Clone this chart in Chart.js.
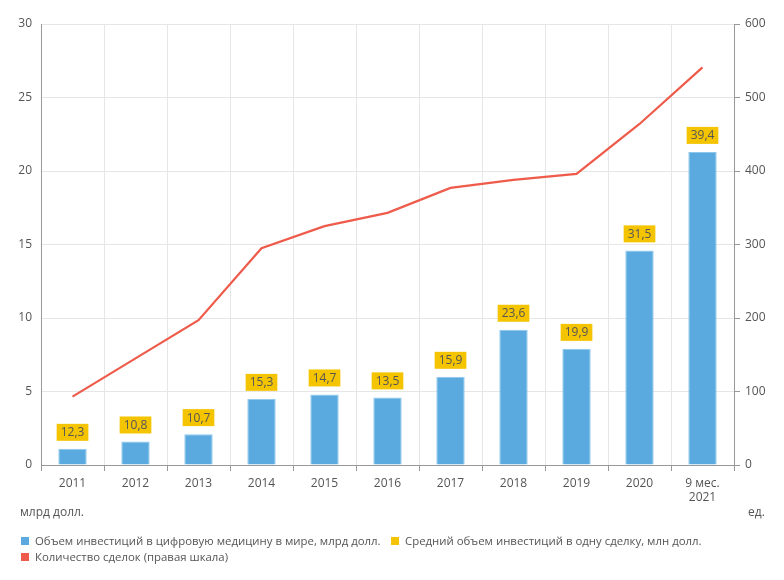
<!DOCTYPE html>
<html>
<head>
<meta charset="utf-8">
<script src="https://cdn.jsdelivr.net/npm/chart.js@4.4.1/dist/chart.umd.min.js"></script>
<style>
  body { margin: 0; background: #fff; font-family: "Open Sans", sans-serif; color: #555; }
  #wrap { position: relative; width: 784px; height: 580px; }
  .unit { position: absolute; font-size: 12px; line-height: 14px; }
  .lg { position: absolute; font-size: 11.4px; line-height: 14px; white-space: nowrap; }
  .lg i { display: inline-block; width: 8px; height: 8px; margin-right: 6px; vertical-align: 0px; }
</style>
</head>
<body>
<div id="wrap">
  <canvas id="chart" width="784" height="580"></canvas>
  <div class="unit" style="left:20px;top:505px">млрд долл.</div>
  <div class="unit" style="left:748px;top:505px">ед.</div>
  <div class="lg" style="left:21px;top:534px"><i style="background:#5aaae0"></i>Объем инвестиций в цифровую медицину в мире, млрд долл.</div>
  <div class="lg" style="left:391px;top:534px"><i style="background:#f5c400"></i>Средний объем инвестиций в одну сделку, млн долл.</div>
  <div class="lg" style="left:21px;top:550px"><i style="background:#ee5b4b"></i>Количество сделок (правая шкала)</div>
</div>
<script>
var years = ['2011', '2012', '2013', '2014', '2015', '2016', '2017', '2018', '2019', '2020', ['9 мес.', '2021']];
var investments = [1.1, 1.6, 2.1, 4.5, 4.8, 4.6, 6.0, 9.2, 7.9, 14.6, 21.3];
var avgDeal = [12.3, 10.8, 10.7, 15.3, 14.7, 13.5, 15.9, 23.6, 19.9, 31.5, 39.4];
var deals = [93, 145, 197, 295, 325, 343, 377, 388, 396, 464, 541];

// yellow boxes with average deal size above each bar
var dealLabels = {
    id: 'dealLabels',
    afterDatasetsDraw: function(chart) {
        var ctx = chart.ctx;
        var bars = chart.getDatasetMeta(0).data;
        var vals = chart.data.datasets[1].data;
        ctx.save();
        ctx.font = '12px "Open Sans", sans-serif';
        ctx.textAlign = 'center';
        ctx.textBaseline = 'middle';
        bars.forEach(function(bar, i) {
            var txt = String(vals[i]).replace('.', ',');
            var w = ctx.measureText(txt).width + 8;
            var h = 17;
            var bottom = bar.y - 8;
            ctx.fillStyle = '#f5c400';
            ctx.fillRect(bar.x - w / 2, bottom - h, w, h);
            ctx.fillStyle = '#555';
            ctx.fillText(txt, bar.x, bottom - h / 2 + 0.5);
        });
        ctx.restore();
    }
};

var ctx = document.getElementById('chart').getContext('2d');
new Chart(ctx, {
    type: 'bar',
    data: {
        labels: years,
        datasets: [
            {
                type: 'bar',
                label: 'Объем инвестиций в цифровую медицину в мире, млрд долл.',
                data: investments,
                backgroundColor: '#5aaae0',
                borderColor: '#8cc6ec',
                borderWidth: { top: 1, left: 1, right: 1, bottom: 0 },
                barPercentage: 0.45,
                categoryPercentage: 1,
                yAxisID: 'y',
                order: 2
            },
            {
                type: 'line',
                label: 'Средний объем инвестиций в одну сделку, млн долл.',
                data: avgDeal,
                showLine: false,
                pointRadius: 0,
                yAxisID: 'yh',
                order: 3
            },
            {
                type: 'line',
                label: 'Количество сделок (правая шкала)',
                data: deals,
                borderColor: '#ee5b4b',
                borderWidth: 2.2,
                pointRadius: 0,
                tension: 0,
                yAxisID: 'y1',
                order: 1
            }
        ]
    },
    options: {
        responsive: false,
        animation: false,
        layout: { padding: { top: 24, bottom: 70, left: 0, right: 0 } },
        plugins: {
            legend: { display: false },
            tooltip: { enabled: false }
        },
        scales: {
            x: {
                afterFit: function(s) { s.height = 45; },
                grid: { color: '#e6e6e6', tickLength: 6, tickColor: '#999', offset: true },
                border: { display: true, color: '#999' },
                ticks: { color: '#555', padding: 5, font: { family: 'Open Sans', size: 12 } }
            },
            y: {
                position: 'left',
                min: 0, max: 30,
                afterFit: function(s) { s.width = 41; },
                grid: { color: '#e6e6e6', drawTicks: false },
                border: { display: true, color: '#999' },
                ticks: { stepSize: 5, color: '#555', padding: 9, font: { family: 'Open Sans', size: 12 } }
            },
            y1: {
                position: 'right',
                min: 0, max: 600,
                afterFit: function(s) { s.width = 50; },
                grid: { drawOnChartArea: false, tickLength: 6, tickColor: '#999' },
                border: { display: true, color: '#999' },
                ticks: { stepSize: 100, color: '#555', padding: 5, font: { family: 'Open Sans', size: 12 } }
            },
            yh: { display: false, min: 0, max: 50 }
        }
    },
    plugins: [dealLabels]
});
</script>
</body>
</html>
